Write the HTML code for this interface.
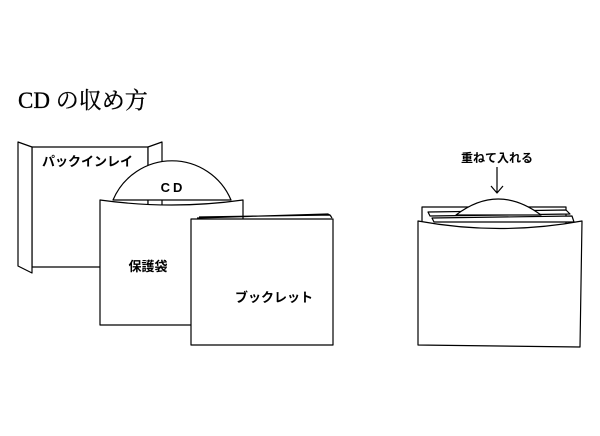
<!DOCTYPE html>
<html><head><meta charset="utf-8"><style>body{margin:0;background:#fff}svg{display:block}</style></head><body>
<svg width="600" height="436" viewBox="0 0 600 436" xmlns="http://www.w3.org/2000/svg">
<g fill="#fff" stroke="#000" stroke-width="1.2" stroke-linejoin="round">
<text x="18" y="108" font-family="Liberation Serif, Noto Serif CJK SC, serif" font-size="23" fill="#000" stroke="#000" stroke-width="0.3">CD の収め方</text>
<!-- back inlay -->
<rect x="32" y="147" width="116" height="120"/>
<polygon points="18,142 32,147 32,273 18,266"/>
<polygon points="148,147 162,142 162,266 148,270"/>
<text x="42" y="166" font-family="Liberation Sans, Noto Sans CJK JP, sans-serif" font-size="13" font-weight="bold" fill="#000" stroke="none">パックインレイ</text>
<!-- CD -->
<path d="M113,200 A64,64 0 0 1 231,200 Z"/>
<text x="173" y="192" text-anchor="middle" font-family="Liberation Sans, sans-serif" font-size="13" font-weight="bold" letter-spacing="3" fill="#000" stroke="none">CD</text>
<!-- sleeve -->
<path d="M100,200 Q172,210 243,200 L243,325 L100,325 Z"/>
<text x="148" y="271" text-anchor="middle" font-family="Liberation Sans, Noto Sans CJK JP, sans-serif" font-size="13" font-weight="bold" fill="#000" stroke="none">保護袋</text>
<!-- booklet -->
<path d="M197,218 L328,214 L331,216 M199,217 L330,215 L332,218" fill="none"/>
<rect x="191" y="219" width="142" height="126"/>
<text x="274" y="302" text-anchor="middle" font-family="Liberation Sans, Noto Sans CJK JP, sans-serif" font-size="13" font-weight="bold" fill="#000" stroke="none">ブックレット</text>
<!-- right -->
<text x="497" y="162" text-anchor="middle" font-family="Liberation Sans, Noto Sans CJK JP, sans-serif" font-size="12" font-weight="bold" fill="#000" stroke="none">重ねて入れる</text>
<path d="M497,167 V192 M491,186 L497,193 L503,186" fill="none"/>
<rect x="422" y="207" width="144" height="30"/>
<path d="M428,212 L566,210 L570,214 L430,216 Z"/>
<path d="M432,218 L572,216 L574,222 L434,222 Z"/>
<path d="M456,215 Q498,183 541,215 Z"/>
<path d="M418,221 Q500,236 582,221 L580,347 L418,345 Z"/>
</g>
</svg>
</body></html>
